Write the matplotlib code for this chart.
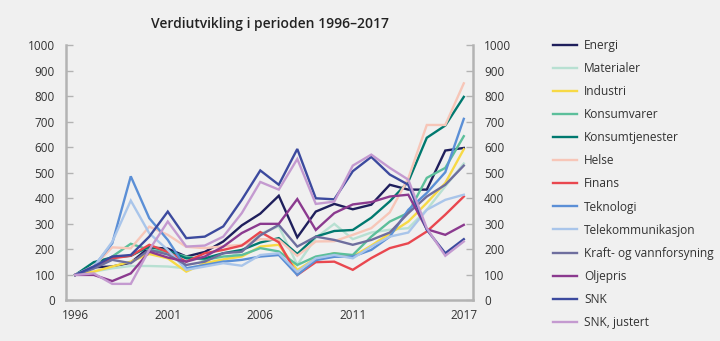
import matplotlib.pyplot as plt

# Years and series values (index, 1996 = 100)
years = list(range(1996, 2018))

energi = [100, 130, 133, 148, 208, 203, 172, 190, 231, 294, 340, 410, 247, 348, 378, 357, 375, 453, 434, 434, 587, 597]
materialer = [100, 113, 126, 135, 135, 133, 126, 139, 159, 191, 262, 290, 140, 245, 300, 240, 266, 277, 283, 355, 447, 536]
industri = [100, 113, 133, 152, 182, 165, 113, 146, 161, 172, 211, 218, 119, 165, 185, 172, 215, 262, 309, 382, 460, 592]
konsumvarer = [100, 128, 172, 222, 198, 190, 172, 159, 172, 178, 205, 192, 139, 172, 185, 178, 250, 309, 343, 480, 519, 643]
konsumtjenester = [100, 150, 169, 175, 211, 195, 165, 165, 185, 198, 227, 244, 182, 250, 272, 276, 324, 388, 465, 637, 685, 797]
helse = [100, 135, 208, 204, 289, 257, 210, 205, 212, 218, 240, 238, 175, 231, 232, 257, 283, 345, 478, 687, 687, 850]
finans = [100, 130, 165, 175, 218, 190, 152, 185, 198, 215, 268, 228, 100, 150, 152, 120, 166, 205, 224, 270, 336, 407]
teknologi = [100, 133, 224, 486, 322, 237, 126, 139, 152, 159, 172, 178, 100, 158, 171, 172, 198, 250, 355, 421, 502, 711]
telekom = [100, 130, 230, 391, 263, 198, 120, 133, 146, 136, 178, 185, 112, 165, 178, 165, 211, 250, 266, 355, 394, 414]
kraft = [100, 125, 159, 146, 198, 180, 139, 152, 185, 191, 255, 296, 211, 250, 237, 218, 237, 266, 342, 407, 453, 528]
oljepris = [100, 100, 76, 106, 191, 168, 152, 172, 211, 264, 300, 300, 397, 276, 342, 376, 385, 407, 414, 279, 257, 296]
snk = [100, 133, 172, 178, 250, 348, 244, 250, 290, 394, 509, 453, 593, 400, 396, 506, 562, 493, 453, 277, 185, 240]
snk_justert = [100, 106, 65, 65, 198, 309, 211, 215, 250, 342, 464, 434, 554, 378, 387, 528, 571, 519, 473, 283, 175, 231]

names = ['Energi', 'Materialer', 'Industri', 'Konsumvarer', 'Konsumtjenester',
         'Helse', 'Finans', 'Teknologi', 'Telekommunikasjon',
         'Kraft- og vannforsyning', 'Oljepris', 'SNK', 'SNK, justert']
series = [energi, materialer, industri, konsumvarer, konsumtjenester, helse,
          finans, teknologi, telekom, kraft, oljepris, snk, snk_justert]
colors = ['#1f1f5c', '#b8e0d2', '#f7d945', '#5cbf9b', '#00796f', '#f7c6b8',
          '#e9474f', '#5b8fd6', '#a9c5ea', '#6e6e9e', '#8b3a8f', '#3c4a9e',
          '#c49ad0']

plt.rcParams['font.family'] = ['Open Sans', 'DejaVu Sans']
bg = '#f0f0f0'

fig = plt.figure(figsize=(7.2, 3.41), dpi=100, facecolor=bg)
ax = fig.add_axes([0.0917, 0.1188, 0.5653, 0.7492], facecolor=bg)

lines = []
for name, vals, col in zip(names, series, colors):
    ln, = ax.plot(years, vals, color=col, lw=1.7, label=name, solid_joinstyle='miter')
    lines.append(ln)

ax.set_xlim(1995.5, 2017.5)
ax.set_ylim(0, 1000)
ax.set_xticks([1996, 2001, 2006, 2011, 2017])
ax.set_yticks(range(0, 1001, 100))

ax2 = ax.twinx()
ax2.set_ylim(0, 1000)
ax2.set_yticks(range(0, 1001, 100))

spine_col = '#b3b3b3'
for a in (ax, ax2):
    for s in a.spines.values():
        s.set_visible(False)
ax.spines['left'].set_visible(True)
ax.spines['bottom'].set_visible(True)
ax2.spines['right'].set_visible(True)
for s in (ax.spines['left'], ax.spines['bottom'], ax2.spines['right']):
    s.set_color(spine_col)
    s.set_linewidth(1.8)

ax.tick_params(axis='y', direction='in', length=5, width=1, color=spine_col,
               labelsize=8.5, labelcolor='#333333', pad=8)
ax2.tick_params(axis='y', direction='in', length=5, width=1, color=spine_col,
                labelsize=8.5, labelcolor='#333333', pad=8)
ax.tick_params(axis='x', length=0, labelsize=8.5, labelcolor='#333333', pad=6)

ax.set_title('Verdiutvikling i perioden 1996–2017', fontsize=10,
             fontweight='semibold', color='#222222', pad=12)

fig.legend(handles=lines, loc='upper left', bbox_to_anchor=(0.762, 0.9),
           frameon=False, fontsize=8.6, labelspacing=0.845, handlelength=2.0,
           handletextpad=0.55, borderaxespad=0, labelcolor='#333333')

fig.savefig('out.png', dpi=100, facecolor=bg)
